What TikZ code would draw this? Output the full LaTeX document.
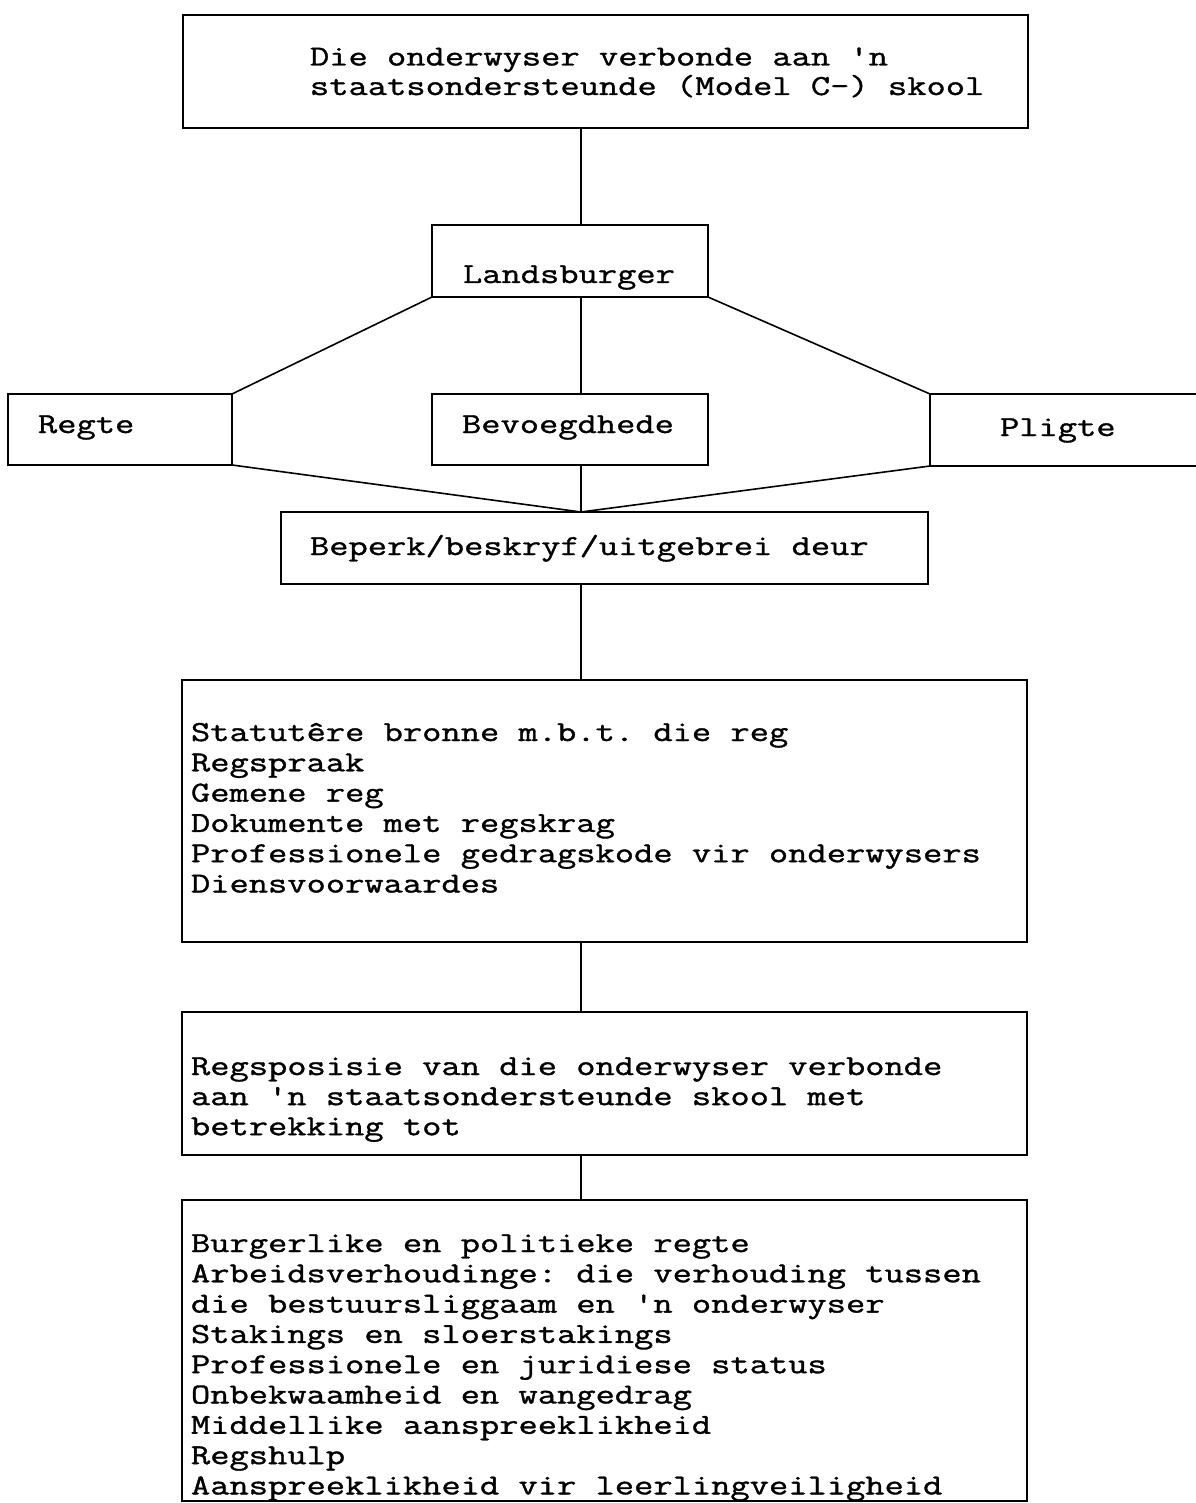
\documentclass[tikz,border=0pt]{standalone}
\usepackage{fontspec}
\setmonofont[FakeStretch=1.29,FakeBold=1.2]{Latin Modern Mono}
\begin{document}
\begin{tikzpicture}[x=1pt,y=-1pt,
  box/.style={draw, line width=1.6pt, inner sep=0pt, outer sep=0pt},
  txt/.style={font=\ttfamily\fontsize{29}{30.3}\selectfont, inner sep=0pt, outer sep=0pt, anchor=base west},
  conn/.style={line width=1.6pt}]
\useasboundingbox[fill=white] (0,0) rectangle (1195,1503);
\coordinate (spine) at (581,0);
% boxes
\node[box, minimum width=845, minimum height=113] (T) at (605.5,71.5) {};
\node[box, minimum width=276, minimum height=72] (L) at (570,261) {};
\node[box, minimum width=224, minimum height=71] (R) at (120,429.5) {};
\node[box, minimum width=276, minimum height=71] (B) at (570,429.5) {};
\node[box, minimum width=280, minimum height=72] (P) at (1070,430) {};
\node[box, minimum width=647, minimum height=72] (K) at (604.5,548) {};
\node[box, minimum width=845, minimum height=262] (S) at (604.5,811) {};
\node[box, minimum width=845, minimum height=143] (Q) at (604.5,1083.5) {};
\node[box, minimum width=845, minimum height=301] (U) at (604.5,1350.5) {};
% texts
\node[txt] (t1) at (310,65.5) {Die onderwyser verbonde aan 'n};
\node[txt] (t2) at (310,95) {staatsondersteunde (Model C-) skool};
\node[txt] (lt) at (463,283) {Landsburger};
\node[txt] (rt) at (38,433) {Regte};
\node[txt] (bt) at (462,433) {Bevoegdhede};
\node[txt] (pt) at (1000,436) {Pligte};
\node[txt] (kt) at (310,555) {Beperk/beskryf/uitgebrei deur};
\foreach \t [count=\i from 0] in {Statutêre bronne m.b.t. die reg, Regspraak, Gemene reg, Dokumente met regskrag, Professionele gedragskode vir onderwysers, Diensvoorwaardes}
  \node[txt] (s\i) at (191,741+30.3*\i) {\t};
\foreach \t [count=\i from 0] in {Regsposisie van die onderwyser verbonde, aan 'n staatsondersteunde skool met, betrekking tot}
  \node[txt] (q\i) at (191,1075+30.1*\i) {\t};
\foreach \t [count=\i from 0] in {Burgerlike en politieke regte, Arbeidsverhoudinge: die verhouding tussen, die bestuursliggaam en 'n onderwyser, Stakings en sloerstakings, Professionele en juridiese status, Onbekwaamheid en wangedrag, Middellike aanspreeklikheid, Regshulp, Aanspreeklikheid vir leerlingveiligheid}
  \node[txt] (u\i) at (191,1252+30.3*\i) {\t};
% connectors
\draw[conn] (T.south -| spine) -- (L.north -| spine);
\draw[conn] (L.south west) -- (R.north east);
\draw[conn] (L.south east) -- (P.north west);
\draw[conn] (L.south -| spine) -- (B.north -| spine);
\draw[conn] (R.south east) -- (K.north -| spine);
\draw[conn] (B.south -| spine) -- (K.north -| spine);
\draw[conn] (P.south west) -- (K.north -| spine);
\draw[conn] (K.south -| spine) -- (S.north -| spine);
\draw[conn] (S.south -| spine) -- (Q.north -| spine);
\draw[conn] (Q.south -| spine) -- (U.north -| spine);
\end{tikzpicture}
\end{document}
